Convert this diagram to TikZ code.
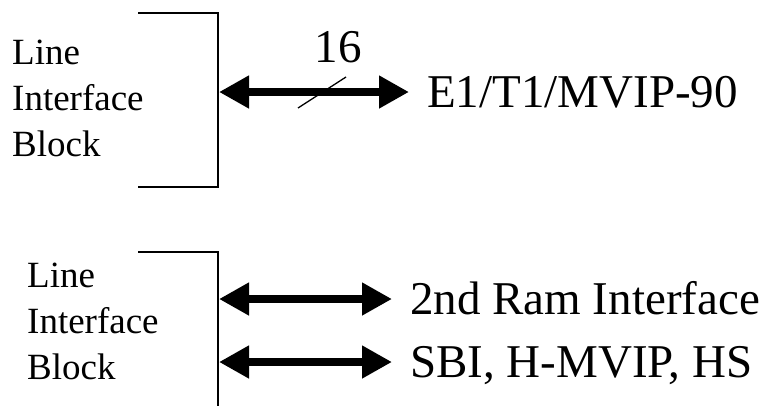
\documentclass[tikz,border=0pt]{standalone}
\usepackage{fontspec}
\setmainfont{Liberation Serif}
\usepackage{tikz}
\usetikzlibrary{calc,arrows.meta}
\tikzset{
  bus/.style={{Triangle[length=30pt,width=31pt]}-{Triangle[length=30pt,width=31pt]},line width=8pt},
  blk/.style={line width=1.3pt},
  lab/.style={font=\fontsize{37}{46}\selectfont,align=left,anchor=north west,inner sep=0pt},
  sig/.style={font=\fontsize{47}{56}\selectfont,anchor=west,inner ysep=0pt,inner xsep=18pt,text height=31pt,text depth=0pt}
}
\begin{document}
\begin{tikzpicture}[x=1pt,y=-1pt]
\useasboundingbox (0,0) rectangle (767,405);
\draw[blk] (138,13)--(218,13)--(218,187)--(138,187);
\draw[blk] (138,252)--(218,252)--(218,406);
\node[lab] (lib1) at (12,40) {Line\\Interface\\Block};
\node[lab] (lib2) at (27,263) {Line\\Interface\\Block};
\coordinate (pe1) at (219,92);
\node[sig] (e1) at (409,92) {E1/T1/MVIP-90};
\draw[bus] (pe1)--(e1.west);
\draw[blk] ($(pe1)+(79,16)$)--($(pe1)+(127,-15)$);
\node[font=\fontsize{47}{56}\selectfont,anchor=base,inner sep=0pt] (w16) at (338,62) {16};
\foreach \y/\nm/\txt in {299/ram/2nd Ram Interface,362/sbi/{SBI, H-MVIP, HS}}{
  \coordinate (p\nm) at (219,\y);
  \node[sig] (\nm) at (392,\y) {\txt};
  \draw[bus] (p\nm)--(\nm.west);}
\end{tikzpicture}
\end{document}
